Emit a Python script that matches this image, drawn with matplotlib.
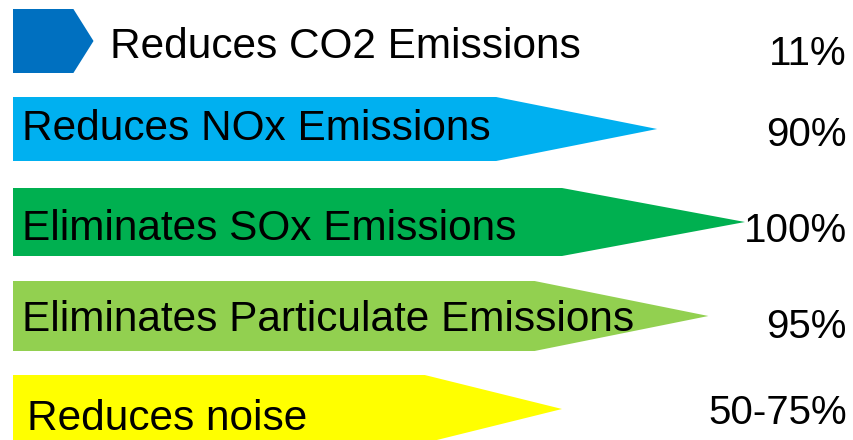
import matplotlib
matplotlib.use("Agg")
import matplotlib.pyplot as plt
from matplotlib.patches import Polygon

# ---- data ----
labels = ["Reduces CO2 Emissions", "Reduces NOx Emissions", "Eliminates SOx Emissions",
          "Eliminates Particulate Emissions", "Reduces noise"]
value_texts = ["11%", "90%", "100%", "95%", "50-75%"]
bar_values = [11, 88, 100, 95, 75]
colors = ["#0070C0", "#00B0F0", "#00B050", "#92D050", "#FFFF00"]

# ---- layout (pixel-based) ----
W, H = 854, 440
px_per_unit = 7.32
x0_px = 13
centers = [41, 129, 222, 316, 409]
heights = [64, 64, 68, 70, 68]
label_x = [110, 22, 22, 22, 27]
label_base = [58, 140, 240, 331, 430]
value_base = [65, 146, 242, 338, 424]
head_frac = 0.25

fig = plt.figure(figsize=(W / 100, H / 100), dpi=100)
ax = fig.add_axes([0, 0, 1, 1])
ax.set_xlim(-x0_px / px_per_unit, (W - x0_px) / px_per_unit)
ax.set_ylim(H, 0)
ax.axis("off")

font = "Liberation Sans"
right_x = (847 - x0_px) / px_per_unit
for i, (lab, vt, v, c) in enumerate(zip(labels, value_texts, bar_values, colors)):
    yc, h = centers[i], heights[i]
    neck = v * (1 - head_frac)
    pts = [(0, yc - h / 2), (neck, yc - h / 2), (v, yc), (neck, yc + h / 2), (0, yc + h / 2)]
    ax.add_patch(Polygon(pts, closed=True, facecolor=c, edgecolor="none"))
    ax.text((label_x[i] - x0_px) / px_per_unit, label_base[i], lab, fontsize=30.5,
            family=font, ha="left", va="baseline", color="black")
    ax.text(right_x, value_base[i], vt, fontsize=29, family=font,
            ha="right", va="baseline", color="black")

fig.savefig("out.png", dpi=100)
